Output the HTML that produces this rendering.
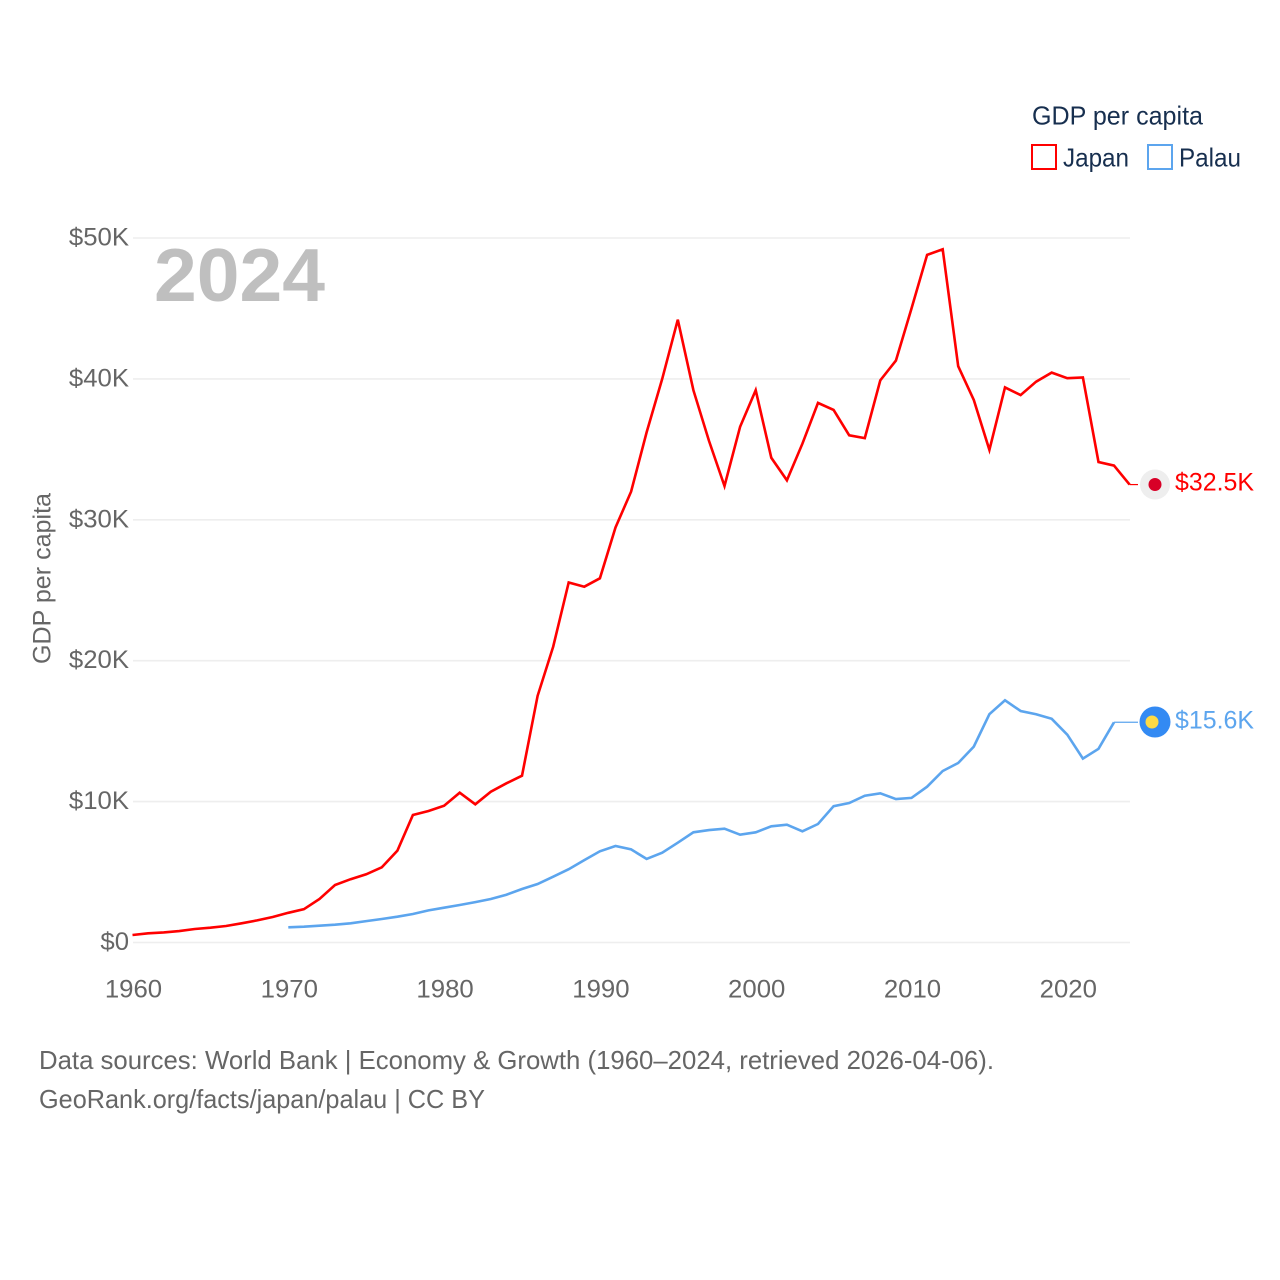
<!DOCTYPE html>
<html lang="en">
<head>
<meta charset="utf-8">
<title>GDP per capita: Japan and Palau</title>
<style>
html,body{margin:0;padding:0;background:#fff;}
svg{display:block;font-family:"Liberation Sans",Arial,sans-serif;}
</style>
</head>
<body>
<svg id="chart" xmlns="http://www.w3.org/2000/svg" width="1280" height="1280" viewBox="0 0 1280 1280">
  <rect width="1280" height="1280" fill="#fff"/>
  <g id="grid"></g>
  <g id="yticks"></g>
  <g id="xticks"></g>
  <text id="year" x="154" y="301" font-size="75" font-weight="700" fill="#bfbfbf" textLength="171" lengthAdjust="spacingAndGlyphs">2024</text>
  <text id="ytitle" transform="translate(50.5,664) rotate(-90)" font-size="25" fill="#666" textLength="171" lengthAdjust="spacingAndGlyphs">GDP per capita</text>
  <g id="series"></g>

  <circle cx="1155" cy="484.5" r="15" fill="#eeeeee"/>
  <circle cx="1155" cy="484.5" r="6.5" fill="#d80027"/>
  <text x="1175" y="490.5" font-size="25" fill="#ff0000" textLength="79" lengthAdjust="spacingAndGlyphs">$32.5K</text>

  <circle cx="1155" cy="722" r="15.5" fill="#338af3"/>
  <circle cx="1152" cy="722" r="6.5" fill="#ffda44"/>
  <text x="1175" y="728.5" font-size="25" fill="#5ca5ee" textLength="79" lengthAdjust="spacingAndGlyphs">$15.6K</text>

  <g>
    <text x="1032" y="124.5" font-size="26" fill="#172f4f" textLength="171" lengthAdjust="spacingAndGlyphs">GDP per capita</text>
    <rect x="1032" y="145" width="24" height="24" fill="none" stroke="#ff0000" stroke-width="2"/>
    <text x="1063" y="166.5" font-size="26" fill="#172f4f" textLength="66" lengthAdjust="spacingAndGlyphs">Japan</text>
    <rect x="1148" y="145" width="24" height="24" fill="none" stroke="#5ca5ee" stroke-width="2"/>
    <text x="1179" y="166.5" font-size="26" fill="#172f4f" textLength="62" lengthAdjust="spacingAndGlyphs">Palau</text>
  </g>

  <text x="39" y="1069" font-size="26" fill="#666" textLength="955" lengthAdjust="spacingAndGlyphs">Data sources: World Bank | Economy &amp; Growth (1960–2024, retrieved 2026-04-06).</text>
  <text x="39" y="1108" font-size="26" fill="#666" textLength="446" lengthAdjust="spacingAndGlyphs">GeoRank.org/facts/japan/palau | CC BY</text>
</svg>
<script>
const japanStartYear = 1960;
const japanValues = [0.53,0.65,0.72,0.81,0.96,1.05,1.17,1.36,1.57,1.81,2.11,2.36,3.09,4.08,4.49,4.84,5.34,6.52,9.05,9.33,9.71,10.63,9.81,10.7,11.3,11.84,17.5,21.0,25.55,25.25,25.85,29.45,32.0,36.2,40.0,44.2,39.2,35.6,32.4,36.6,39.2,34.4,32.8,35.4,38.3,37.8,36.0,35.8,39.9,41.3,45.0,48.8,49.2,40.9,38.5,34.96,39.4,38.85,39.8,40.45,40.05,40.1,34.1,33.85,32.5];
const palauStartYear = 1970;
const palauValues = [1.08,1.12,1.19,1.26,1.36,1.52,1.67,1.83,2.02,2.28,2.47,2.66,2.87,3.09,3.39,3.8,4.15,4.67,5.2,5.85,6.47,6.85,6.61,5.93,6.37,7.08,7.82,7.98,8.08,7.65,7.82,8.25,8.36,7.89,8.41,9.67,9.9,10.42,10.59,10.18,10.26,11.06,12.17,12.74,13.9,16.2,17.19,16.43,16.2,15.88,14.75,13.05,13.75,15.63];
const yTickValues = [0,10,20,30,40,50];
const yTickLabels = ["$0","$10K","$20K","$30K","$40K","$50K"];
const xTickYears = [1960,1970,1980,1990,2000,2010,2020];
const xTickLabels = ["1960","1970","1980","1990","2000","2010","2020"];

const NS = "http://www.w3.org/2000/svg";
const xScale = year => 132.5 + (year - 1960) * 15.58;
const yScale = value => 942.5 - value * 14.09;
const make = (tag, attrs, parent) => {
  const el = document.createElementNS(NS, tag);
  for (const k in attrs) el.setAttribute(k, attrs[k]);
  parent.appendChild(el);
  return el;
};
const stretch = (el, factor) => {
  const w = el.getComputedTextLength();
  el.setAttribute("textLength", (w * factor).toFixed(1));
  el.setAttribute("lengthAdjust", "spacingAndGlyphs");
};

const grid = document.getElementById("grid");
const yticks = document.getElementById("yticks");
const xticks = document.getElementById("xticks");
const series = document.getElementById("series");

yTickValues.forEach((v, i) => {
  const line = make("line", {x1: 133, x2: 1130, y1: yScale(v), y2: yScale(v), stroke: "#eeeeee", "stroke-width": 1.6}, grid);
  
  
  const t = make("text", {x: 129, y: yScale(v) + 7.5, "text-anchor": "end", "font-size": 25, fill: "#666"}, yticks);
  t.textContent = yTickLabels[i];
  
  
  stretch(t, 1.03);
});

xTickYears.forEach((yr, i) => {
  const t = make("text", {x: xScale(yr) + 1, y: 997.5, "text-anchor": "middle", "font-size": 25, fill: "#666"}, xticks);
  t.textContent = xTickLabels[i];
  
  
  stretch(t, 1.03);
});

const toPoints = (start, values) => values.map((v, i) => xScale(start + i).toFixed(1) + "," + yScale(v).toFixed(1)).join(" ");

const japanLine = make("polyline", {points: toPoints(japanStartYear, japanValues), fill: "none", stroke: "#ff0000", "stroke-width": 2.6}, series);



const palauLine = make("polyline", {points: toPoints(palauStartYear, palauValues), fill: "none", stroke: "#5ca5ee", "stroke-width": 2.6}, series);



const japanLast = japanValues[japanValues.length - 1];
const japanConn = make("line", {x1: xScale(japanStartYear + japanValues.length - 1), x2: 1138, y1: yScale(japanLast), y2: yScale(japanLast), stroke: "#ff0000", "stroke-width": 1.2}, series);



const palauLast = palauValues[palauValues.length - 1];
const palauConn = make("line", {x1: xScale(palauStartYear + palauValues.length - 1), x2: 1138, y1: yScale(palauLast), y2: yScale(palauLast), stroke: "#5ca5ee", "stroke-width": 1.2}, series);


</script>
</body>
</html>
